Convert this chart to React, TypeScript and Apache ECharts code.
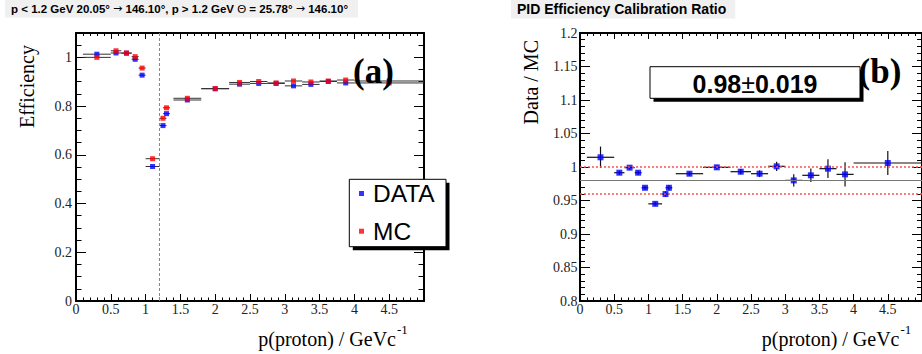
import React, { useEffect, useRef } from 'react';
import * as echarts from 'echarts';

// Momentum bins (GeV/c): centres and half widths
const pCenters = [0.3, 0.575, 0.725, 0.85, 0.95, 1.1, 1.25, 1.3, 1.6, 2.0, 2.35, 2.625, 2.875, 3.125, 3.375, 3.625, 3.875, 4.5];
const pHalfWidths = [0.2, 0.075, 0.075, 0.05, 0.05, 0.1, 0.05, 0.05, 0.2, 0.2, 0.15, 0.125, 0.125, 0.125, 0.125, 0.125, 0.125, 0.5];

// Panel (a): efficiencies
const dataEff = [1.013, 1.018, 1.017, 0.992, 0.927, 0.552, 0.72, 0.769, 0.825, 0.871, 0.89, 0.893, 0.893, 0.883, 0.889, 0.901, 0.895, 0.903];
const mcEff = [1.0, 1.027, 1.018, 1.003, 0.956, 0.584, 0.75, 0.793, 0.832, 0.872, 0.897, 0.901, 0.895, 0.903, 0.899, 0.903, 0.907, 0.895];

// Panel (b): Data / MC ratio
const ratio = [1.0145, 0.9915, 0.999, 0.9915, 0.969, 0.945, 0.9596, 0.969, 0.99, 0.9995, 0.993, 0.99, 1.001, 0.98, 0.9876, 0.9975, 0.989, 1.006];
const ratioErr = [0.016, 0.003, 0.003, 0.003, 0.003, 0.003, 0.004, 0.004, 0.003, 0.003, 0.004, 0.005, 0.007, 0.009, 0.01, 0.014, 0.018, 0.018];

const fitValue = 0.98;
const fitError = 0.019;
const momentumCut = 1.2;

const leftTitle = 'p < 1.2 GeV 20.05° {n|→} 146.10°, p > 1.2 GeV {t|Θ} = 25.78° {n|→} 146.10°';
const rightTitle = 'PID Efficiency Calibration Ratio';

const SERIF = 'Liberation Serif';
const SANS = 'Liberation Sans';

function errRender(color: string, width: number) {
  return (params: any, api: any) => {
    const x = api.value(0);
    const y = api.value(1);
    const xe = api.value(2);
    const ye = api.value(3);
    const children: any[] = [];
    const l = api.coord([x - xe, y]);
    const r = api.coord([x + xe, y]);
    children.push({ type: 'line', shape: { x1: l[0], y1: l[1], x2: r[0], y2: r[1] }, style: { stroke: color, lineWidth: width } });
    if (ye > 0) {
      const t = api.coord([x, y + ye]);
      const b = api.coord([x, y - ye]);
      children.push({ type: 'line', shape: { x1: t[0], y1: t[1], x2: b[0], y2: b[1] }, style: { stroke: color, lineWidth: width } });
    }
    return { type: 'group', children };
  };
}

function xAxisDef(grid: number, position: string, labels: boolean, major: number, minor: number) {
  return {
    gridIndex: grid, type: 'value', position, min: 0, max: 5, interval: 0.5,
    axisLine: { show: true, onZero: false, lineStyle: { color: '#000', width: 2 } },
    axisTick: { show: true, inside: true, length: major, lineStyle: { color: '#000', width: 1 } },
    minorTick: { show: true, splitNumber: 5, length: minor, lineStyle: { color: '#000', width: 1 } },
    axisLabel: { show: labels, showMaxLabel: false, margin: 1, fontFamily: SERIF, fontSize: 14, color: '#222' },
    splitLine: { show: false },
  };
}

function yAxisDef(grid: number, position: string, min: number, max: number, interval: number, opts: any) {
  return {
    gridIndex: grid, type: 'value', position, min, max, interval,
    axisLine: { show: opts.line, onZero: false, lineStyle: { color: '#000', width: 2 } },
    axisTick: { show: true, inside: true, length: opts.tick, lineStyle: { color: '#000', width: 1 } },
    minorTick: { show: !!opts.minor, splitNumber: opts.minorSplit || 5, length: opts.minor || 0, lineStyle: { color: '#000', width: 1 } },
    axisLabel: { show: !!opts.labels, showMaxLabel: opts.showMax !== false, margin: opts.margin || 4, fontFamily: SERIF, fontSize: 14, color: '#222' },
    splitLine: { show: false },
  };
}

export default function App() {
  const ref = useRef<HTMLDivElement>(null);
  useEffect(() => {
    if (!ref.current) return;
    const chart = echarts.init(ref.current, undefined, { renderer: 'svg' });
    const dataPts = pCenters.map((p, i) => [p, dataEff[i]]);
    const mcPts = pCenters.map((p, i) => [p, mcEff[i]]);
    const ratioPts = pCenters.map((p, i) => [p, ratio[i]]);

    const option: any = {
      animation: false,
      title: [
        {
          text: leftTitle, left: 5, top: 0, padding: [3, 10, 3, 6], backgroundColor: '#f0f0f0',
          textStyle: {
            fontFamily: SANS, fontWeight: 'bold', fontSize: 11.5, lineHeight: 11, color: '#000',
            rich: {
              n: { fontFamily: 'DejaVu Sans', fontWeight: 'normal', fontSize: 11, lineHeight: 11, color: '#000' },
              t: { fontFamily: SANS, fontWeight: 'normal', fontSize: 11.5, lineHeight: 11, color: '#000' },
            },
          },
        },
        {
          text: rightTitle, left: 511, top: 0, padding: [3, 9, 3, 6], backgroundColor: '#f0f0f0',
          textStyle: { fontFamily: SANS, fontWeight: 'bold', fontSize: 14, lineHeight: 11, color: '#000' },
        },
      ],
      grid: [
        { left: 76, top: 33, width: 348, height: 268 },
        { left: 580, top: 33, width: 350, height: 268 },
      ],
      xAxis: [
        xAxisDef(0, 'bottom', true, 7, 3.5),
        xAxisDef(0, 'top', false, 6, 3),
        xAxisDef(1, 'bottom', true, 7, 3.5),
        xAxisDef(1, 'top', false, 6, 3),
      ],
      yAxis: [
        yAxisDef(0, 'left', 0, 1.1, 0.2, { line: true, tick: 10, labels: true, showMax: false, margin: 4 }),
        yAxisDef(0, 'left', 0, 1.1, 0.05, { line: false, tick: 5.5 }),
        yAxisDef(0, 'right', 0, 1.1, 0.2, { line: true, tick: 10 }),
        yAxisDef(0, 'right', 0, 1.1, 0.05, { line: false, tick: 5.5 }),
        yAxisDef(1, 'left', 0.8, 1.2, 0.05, { line: true, tick: 10, minor: 5, minorSplit: 5, labels: true, margin: 2.5 }),
        yAxisDef(1, 'right', 0.8, 1.2, 0.05, { line: true, tick: 10, minor: 5, minorSplit: 5 }),
      ],
      legend: {
        data: ['DATA', 'MC'], orient: 'vertical', left: 359, top: 181, padding: 0,
        itemWidth: 5, itemHeight: 5, itemGap: 12.7, icon: 'rect', selectedMode: false, z: 20,
        textStyle: { fontFamily: SANS, fontSize: 24.5, lineHeight: 24, color: '#000', padding: [0, 0, 0, 4] },
      },
      series: [
        {
          type: 'custom', name: 'DATA bins', xAxisIndex: 0, yAxisIndex: 0, encode: { x: 0, y: 1 },
          renderItem: errRender('#333', 1), silent: true, z: 2,
          data: pCenters.map((p, i) => [p, dataEff[i], pHalfWidths[i], 0]),
        },
        {
          type: 'custom', name: 'MC bins', xAxisIndex: 0, yAxisIndex: 0, encode: { x: 0, y: 1 },
          renderItem: errRender('#333', 1), silent: true, z: 2,
          data: pCenters.map((p, i) => [p, mcEff[i], pHalfWidths[i], 0]),
        },
        {
          type: 'scatter', name: 'DATA', xAxisIndex: 0, yAxisIndex: 0, symbol: 'rect', symbolSize: 5,
          itemStyle: { color: '#0000ff' }, data: dataPts, z: 3,
          markLine: {
            silent: true, symbol: 'none', label: { show: false },
            lineStyle: { color: '#888', type: [3, 2], width: 1 },
            data: [{ xAxis: momentumCut }],
          },
        },
        {
          type: 'scatter', name: 'MC', xAxisIndex: 0, yAxisIndex: 0, symbol: 'rect', symbolSize: 5,
          itemStyle: { color: '#ff0000' }, data: mcPts, z: 4,
        },
        {
          type: 'custom', name: 'Ratio errors', xAxisIndex: 2, yAxisIndex: 4, encode: { x: 0, y: 1 },
          renderItem: errRender('#111', 1.2), silent: true, z: 2,
          data: pCenters.map((p, i) => [p, ratio[i], pHalfWidths[i], ratioErr[i]]),
        },
        {
          type: 'scatter', name: 'Data / MC', xAxisIndex: 2, yAxisIndex: 4, symbol: 'rect', symbolSize: 6,
          itemStyle: { color: '#0000ff' }, data: ratioPts, z: 4,
          markLine: {
            silent: true, symbol: 'none', label: { show: false },
            data: [
              { yAxis: fitValue, lineStyle: { color: '#777', type: 'solid', width: 1 } },
              { yAxis: fitValue + fitError, lineStyle: { color: '#ff5050', type: [2, 2], width: 1.5 } },
              { yAxis: fitValue - fitError, lineStyle: { color: '#ff5050', type: [2, 2], width: 1.5 } },
            ],
          },
        },
      ],
      graphic: [
        // axis titles
        { type: 'text', x: 27, y: 45, rotation: Math.PI / 2, style: { text: 'Efficiency', font: `20px "${SERIF}"`, fill: '#000', align: 'right', verticalAlign: 'middle' } },
        { type: 'text', x: 531, y: 40, rotation: Math.PI / 2, style: { text: 'Data / MC', font: `20px "${SERIF}"`, fill: '#000', align: 'right', verticalAlign: 'middle' } },
        { type: 'text', x: 396, y: 339, style: { text: 'p(proton) / GeVc', font: `20px "${SERIF}"`, fill: '#000', align: 'right', verticalAlign: 'middle' } },
        { type: 'text', x: 397, y: 329, style: { text: '-1', font: `13px "${SERIF}"`, fill: '#000', align: 'left', verticalAlign: 'middle' } },
        { type: 'text', x: 899.5, y: 339, style: { text: 'p(proton) / GeVc', font: `20px "${SERIF}"`, fill: '#000', align: 'right', verticalAlign: 'middle' } },
        { type: 'text', x: 900.5, y: 329, style: { text: '-1', font: `13px "${SERIF}"`, fill: '#000', align: 'left', verticalAlign: 'middle' } },
        // panel labels
        { type: 'text', x: 373.5, y: 71, z: 5, style: { text: '(a)', font: `bold 35px "${SERIF}"`, fill: '#000', align: 'center', verticalAlign: 'middle' } },
        { type: 'text', x: 880, y: 71, z: 5, style: { text: '(b)', font: `bold 35px "${SERIF}"`, fill: '#000', align: 'center', verticalAlign: 'middle' } },
        // legend box with shadow
        { type: 'rect', z: 9, shape: { x: 352.8, y: 182.8, width: 96.7, height: 67.4 }, style: { fill: '#000' } },
        { type: 'rect', z: 10, shape: { x: 349.3, y: 179.3, width: 96.7, height: 67.4 }, style: { fill: '#fff', stroke: '#000', lineWidth: 1 } },
        // fit result box with shadow
        { type: 'rect', z: 9, shape: { x: 653.5, y: 70.2, width: 210, height: 31.6 }, style: { fill: '#000' } },
        { type: 'rect', z: 10, shape: { x: 650, y: 66.7, width: 210, height: 31.6 }, style: { fill: '#fff', stroke: '#000', lineWidth: 1 } },
        {
          type: 'text', z: 11, x: 755, y: 83.5,
          style: {
            text: `{b|${fitValue.toFixed(2)}}{n|±}{b|${fitError.toFixed(3)}}`,
            align: 'center', verticalAlign: 'middle', fill: '#000',
            rich: {
              b: { fontFamily: SANS, fontWeight: 'bold', fontSize: 25, fill: '#000' },
              n: { fontFamily: SANS, fontWeight: 'normal', fontSize: 25, fill: '#000' },
            },
          },
        },
      ],
    };
    chart.setOption(option);
    return () => chart.dispose();
  }, []);
  return <div ref={ref} style={{ position: 'absolute', left: 0, top: 0, width: 922, height: 354 }} />;
}
